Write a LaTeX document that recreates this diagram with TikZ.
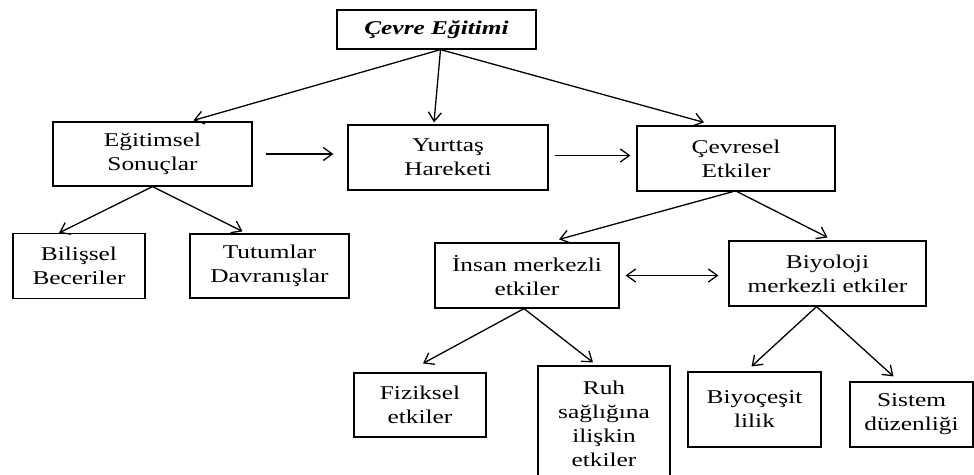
\documentclass[tikz,border=0pt]{standalone}
\usepackage{fontspec}
\setmainfont[FakeStretch=1.3]{Liberation Serif}
\usetikzlibrary{arrows.meta}

\begin{document}
\begin{tikzpicture}[x=1pt,y=-1pt,
    box/.style={draw,line width=1.2pt,inner sep=0pt,align=center,
      font=\fontsize{19.5}{24}\selectfont},
    arr/.style={-{Straight Barb[length=9pt,width=13pt]},line width=1.3pt},
    darr/.style={{Straight Barb[length=9pt,width=13pt]}-{Straight Barb[length=9pt,width=13pt]},line width=1.3pt}]
        \useasboundingbox (0,0) rectangle (974,474) ;
        % kutular
        \node[box,minimum width=199pt,minimum height=39pt] (top) at (436.5,29.5) {\textbf{\textit{Çevre Eğitimi}}} ;
        \node[box,minimum width=199pt,minimum height=64pt] (egit) at (152.5,154) {Eğitimsel\\Sonuçlar} ;
        \node[box,minimum width=200pt,minimum height=65pt] (yurt) at (448,157.5) {Yurttaş\\Hareketi} ;
        \node[box,minimum width=198pt,minimum height=65pt] (cevr) at (736,158.5) {Çevresel\\Etkiler} ;
        \node[box,minimum width=132pt,minimum height=65pt] (bil) at (79,266) {Bilişsel\\Beceriler} ;
        \node[box,minimum width=159pt,minimum height=64pt] (tut) at (269.5,266) {Tutumlar\\Davranışlar} ;
        \node[box,minimum width=184pt,minimum height=65pt] (insan) at (527,275.5) {İnsan merkezli\\etkiler} ;
        \node[box,minimum width=197pt,minimum height=65pt] (biyo) at (827.5,273.5) {Biyoloji\\merkezli etkiler} ;
        \node[box,minimum width=132pt,minimum height=64pt] (fiz) at (420,405) {Fiziksel\\etkiler} ;
        \node[box,minimum width=132pt,minimum height=116pt] (ruh) at (604,424) {Ruh\\sağlığına\\ilişkin\\etkiler} ;
        \node[box,minimum width=133pt,minimum height=75pt] (biyc) at (754.5,409.5) {Biyoçeşit\\lilik} ;
        \node[box,minimum width=123pt,minimum height=65pt] (sis) at (911.5,414.5) {Sistem\\düzenliği} ;
        % oklar
        \draw[arr] ([xshift=4pt]top.south) -- ([xshift=41pt,yshift=1pt]egit.north) ;
        \draw[arr] ([xshift=4pt]top.south) -- ([xshift=-14pt,yshift=2pt]yurt.north) ;
        \draw[arr] ([xshift=4pt]top.south) -- ([xshift=-32pt,yshift=3pt]cevr.north) ;
        \draw[arr,shorten <=13pt,shorten >=14pt] (egit.east) -- (egit.east -| yurt.west) ;
        \draw[arr,shorten <=6pt,shorten >=6pt] ([yshift=2pt]yurt.east) -- ([yshift=2pt]yurt.east -| cevr.west) ;
        \draw[arr] (egit.south) -- ([xshift=-20pt]bil.north) ;
        \draw[arr] (egit.south) -- ([xshift=-27pt,yshift=2pt]tut.north) ;
        \draw[arr] ([xshift=-3pt]cevr.south) -- ([xshift=32pt,yshift=3pt]insan.north) ;
        \draw[arr] ([xshift=1pt]cevr.south) -- ([yshift=3pt]biyo.north) ;
        \draw[darr,shorten <=6pt,shorten >=10pt] (insan.east) -- (insan.east -| biyo.west) ;
        \draw[arr] ([xshift=-3pt]insan.south) -- ([xshift=3pt,yshift=9pt]fiz.north) ;
        \draw[arr] ([xshift=-3pt]insan.south) -- ([xshift=-11pt,yshift=3pt]ruh.north) ;
        \draw[arr] ([xshift=-11pt]biyo.south) -- ([xshift=-3pt,yshift=5pt]biyc.north) ;
        \draw[arr] ([xshift=-11pt]biyo.south) -- ([xshift=-18pt,yshift=5pt]sis.north) ;
\end{tikzpicture}
\end{document}
